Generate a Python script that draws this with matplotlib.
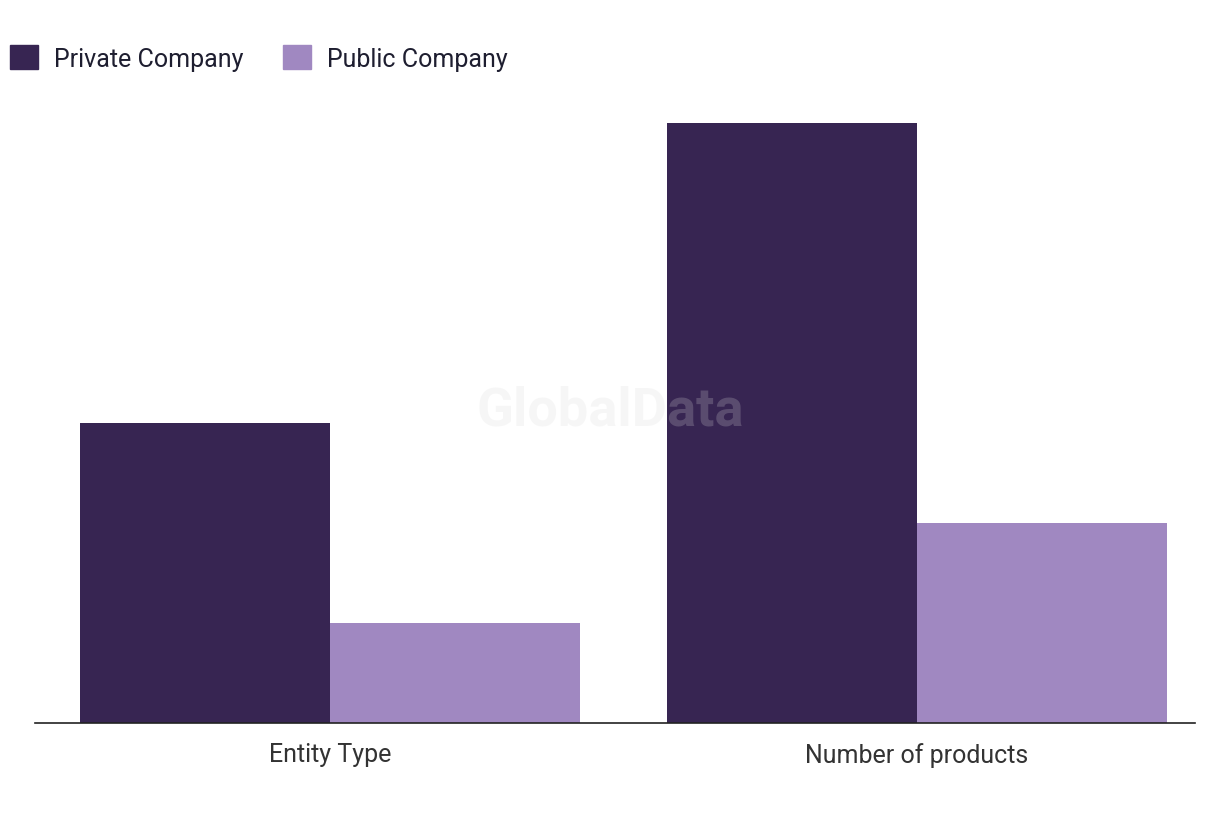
import matplotlib.pyplot as plt
from matplotlib.patches import Patch
import numpy as np

categories = ["Entity Type", "Number of products"]
private_vals = [3, 6]
public_vals = [1, 2]
series_names = ["Private Company", "Public Company"]

dark = "#372552"
light = "#a088c1"

plt.rcParams['font.family'] = ['Roboto', 'DejaVu Sans']

fig = plt.figure(figsize=(12.2, 8.2), dpi=100)
ax = fig.add_axes([35 / 1220, 96.5 / 820, 1160 / 1220, 619 / 820])

x = np.arange(len(categories))
w = 250 / 587
ax.bar(x - w / 2, private_vals, w, color=dark)
ax.bar(x + w / 2, public_vals, w, color=light)

ax.set_xlim(-0.502, 1.474)
ax.set_ylim(0, 6.2)
ax.set_xticks(x)
ax.set_xticklabels(categories, fontsize=18, color="#333333")
ax.tick_params(axis="x", length=0, pad=14)
ax.set_yticks([])
for s in ["top", "right", "left"]:
    ax.spines[s].set_visible(False)
ax.spines["bottom"].set_color("#222222")
ax.spines["bottom"].set_linewidth(1.2)

# watermark
fig.text(610 / 1220, 1 - 411 / 820, "GlobalData", ha="center", va="center",
         fontsize=39, fontweight="bold", color="#d9d9d9", alpha=0.22, zorder=10)

handles = [Patch(color=dark), Patch(color=light)]
fig.legend(handles, series_names, loc="center left", bbox_to_anchor=(10 / 1220, 1 - 59 / 820),
           ncol=2, frameon=False, fontsize=18, handlelength=1.1, handleheight=1.1,
           handletextpad=0.65, columnspacing=1.6, labelcolor="#1e1e30",
           borderpad=0, borderaxespad=0)

fig.savefig("out.png", dpi=100)
